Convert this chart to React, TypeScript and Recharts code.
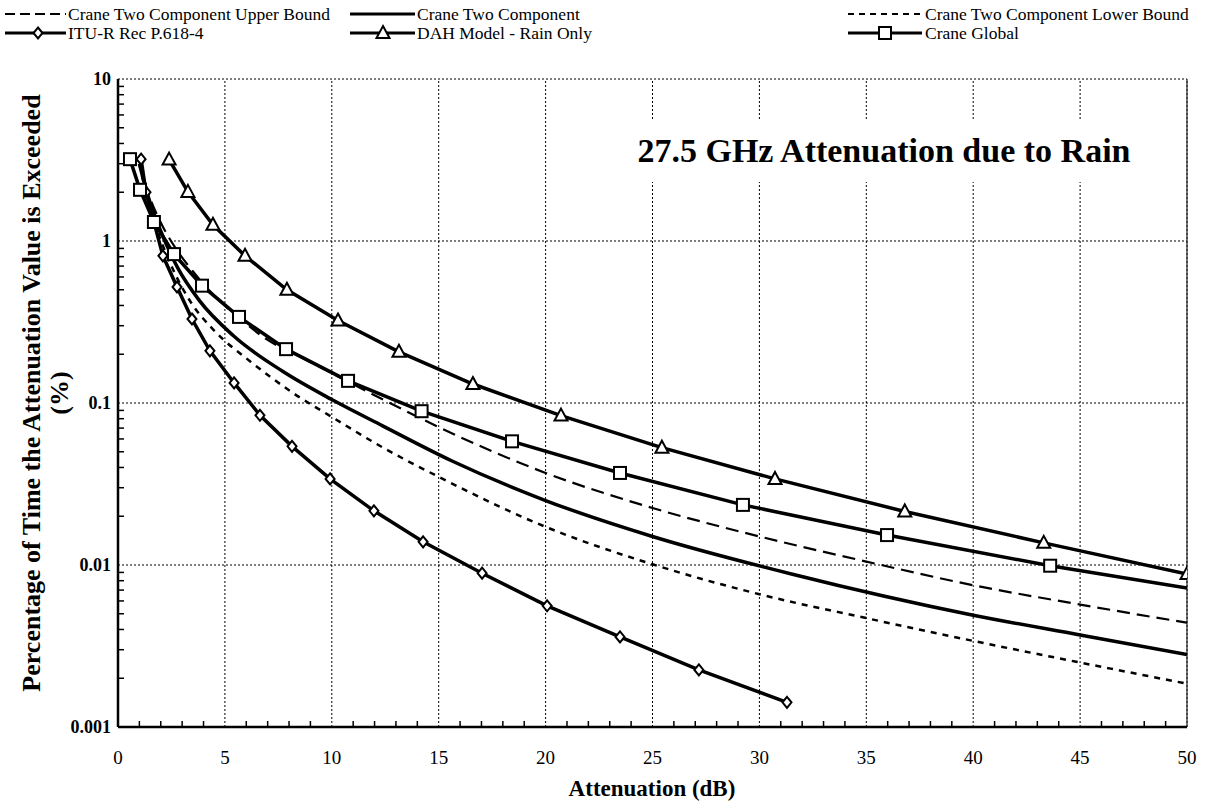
import { LineChart, Line, XAxis, YAxis, ReferenceLine } from 'recharts';

// values (attenuation dB, percent of time)
const upperX = [1.0, 1.4, 2.0, 2.7, 3.5, 4.5, 5.5, 7.0, 8.8, 10.2, 12.4, 15, 20, 25, 30, 35, 40, 45, 50];
const upperP = [3.0, 2.0, 1.3, 0.9, 0.65, 0.46, 0.35, 0.245, 0.185, 0.148, 0.105, 0.071, 0.037, 0.0225, 0.015, 0.0105, 0.0075, 0.0057, 0.0044];

const twoX = [1.0, 1.4, 2.0, 2.8, 3.8, 5.4, 7.7, 10, 12.4, 15.6, 20, 25, 31.5, 40, 45, 50];
const twoP = [3.0, 1.9, 1.15, 0.68, 0.43, 0.26, 0.157, 0.105, 0.072, 0.044, 0.025, 0.015, 0.0088, 0.0049, 0.0037, 0.0028];

const lowerX = [1.0, 1.3, 1.8, 2.5, 3.4, 4.5, 6.2, 8.2, 10, 12.4, 15, 20, 25, 30, 35, 40, 45, 50];
const lowerP = [3.0, 2.0, 1.2, 0.7, 0.42, 0.28, 0.18, 0.115, 0.082, 0.053, 0.035, 0.0172, 0.0101, 0.0066, 0.0047, 0.0034, 0.0025, 0.00185];

const ituX = [1.08, 1.31, 2.1, 2.76, 3.46, 4.3, 5.43, 6.64, 8.14, 9.92, 11.97, 14.27, 17.03, 20.07, 23.48, 27.17, 31.29];
const ituP = [3.2, 2.0, 0.81, 0.52, 0.33, 0.21, 0.133, 0.084, 0.054, 0.034, 0.0216, 0.0139, 0.0089, 0.0056, 0.0036, 0.00225, 0.00142];

const dahX = [2.39, 3.27, 4.44, 5.94, 7.9, 10.29, 13.14, 16.6, 20.72, 25.44, 30.73, 36.8, 43.3, 50];
const dahP = [3.18, 2.01, 1.26, 0.81, 0.5, 0.323, 0.207, 0.131, 0.0836, 0.053, 0.034, 0.0214, 0.0137, 0.0088];

const globalX = [0.56, 1.03, 1.68, 2.62, 3.93, 5.66, 7.86, 10.76, 14.2, 18.43, 23.48, 29.23, 35.97, 43.6, 50];
const globalP = [3.2, 2.07, 1.31, 0.83, 0.53, 0.34, 0.215, 0.137, 0.089, 0.058, 0.037, 0.0235, 0.0153, 0.0099, 0.0072];

const xMajor = [0, 5, 10, 15, 20, 25, 30, 35, 40, 45, 50];
const yMajor = [0.001, 0.01, 0.1, 1, 10];

const xAllTicks: number[] = [];
for (let i = 0; i <= 50; i++) xAllTicks.push(i);
const yAllTicks: number[] = [];
for (const d of [0.001, 0.01, 0.1, 1]) {
  for (let k = 1; k <= 9; k++) yAllTicks.push(+(d * k).toPrecision(3));
}
yAllTicks.push(10);

const FONT = "'Liberation Serif', 'Times New Roman', serif";

const pts = (xs: number[], ps: number[]) => xs.map((x, i) => ({ x, p: ps[i] }));

function XTick(props: any) {
  const { x, y, payload } = props;
  const v = payload.value;
  if (v % 5 === 0) {
    return (
      <text x={x} y={y + 37} textAnchor="middle" fontSize={19} fontFamily={FONT} fill="#000">
        {v}
      </text>
    );
  }
  return <line x1={x} x2={x} y1={y} y2={y - 6} stroke="#000" strokeWidth={1.5} />;
}

function YTick(props: any) {
  const { x, y, payload } = props;
  const v = payload.value;
  if (yMajor.includes(v)) {
    return (
      <text x={x - 7} y={y + 6} textAnchor="end" fontSize={18} fontWeight="bold" fontFamily={FONT} fill="#000">
        {String(v)}
      </text>
    );
  }
  return <line x1={x} x2={x + 6} y1={y} y2={y} stroke="#000" strokeWidth={1.5} />;
}

function Diamond(props: any) {
  const { cx, cy } = props;
  if (cx == null || cy == null) return null;
  return (
    <path
      d={`M${cx},${cy - 5.5}L${cx + 4.5},${cy}L${cx},${cy + 5.5}L${cx - 4.5},${cy}Z`}
      fill="#fff"
      stroke="#000"
      strokeWidth={2}
    />
  );
}

function Triangle(props: any) {
  const { cx, cy } = props;
  if (cx == null || cy == null) return null;
  return (
    <path
      d={`M${cx},${cy - 7}L${cx + 6.5},${cy + 5}L${cx - 6.5},${cy + 5}Z`}
      fill="#fff"
      stroke="#000"
      strokeWidth={2}
    />
  );
}

function Square(props: any) {
  const { cx, cy, index } = props;
  if (cx == null || cy == null) return null;
  if (index === globalX.length - 1) return <g />;
  return <rect x={cx - 6} y={cy - 6} width={12} height={12} fill="#fff" stroke="#000" strokeWidth={2} />;
}

function LegendRows() {
  const t = { fontSize: 17.5, fontFamily: FONT, fill: '#000' } as const;
  return (
    <svg width={1212} height={46} style={{ position: 'absolute', left: 0, top: 0 }}>
      <line x1={5} x2={66} y1={14} y2={14} stroke="#000" strokeWidth={2} strokeDasharray="10 5" />
      <text x={68} y={20} {...t}>Crane Two Component Upper Bound</text>
      <line x1={350} x2={415} y1={14} y2={14} stroke="#000" strokeWidth={3} />
      <text x={417} y={20} {...t}>Crane Two Component</text>
      <line x1={848} x2={922} y1={14} y2={14} stroke="#000" strokeWidth={2} strokeDasharray="6 5" />
      <text x={925} y={20} {...t}>Crane Two Component Lower Bound</text>

      <line x1={5} x2={66} y1={33} y2={33} stroke="#000" strokeWidth={3} />
      <Diamond cx={38} cy={33} />
      <text x={68} y={39} {...t}>ITU-R Rec P.618-4</text>
      <line x1={350} x2={415} y1={33} y2={33} stroke="#000" strokeWidth={3} />
      <Triangle cx={383} cy={33} />
      <text x={417} y={39} {...t}>DAH Model - Rain Only</text>
      <line x1={848} x2={922} y1={33} y2={33} stroke="#000" strokeWidth={3} />
      <rect x={879} y={27} width={12} height={12} fill="#fff" stroke="#000" strokeWidth={2} />
      <text x={925} y={39} {...t}>Crane Global</text>
    </svg>
  );
}

export default function App() {
  const grid = { stroke: '#000', strokeWidth: 1, strokeDasharray: '2 2' };
  return (
    <div style={{ position: 'absolute', left: 0, top: 0, width: 1212, height: 808, background: '#fff', fontFamily: FONT }}>
      <LineChart width={1212} height={808} margin={{ top: 79, right: 25, bottom: 51, left: 58 }}>
        <XAxis
          type="number"
          dataKey="x"
          domain={[0, 50]}
          allowDataOverflow
          ticks={xAllTicks}
          interval={0}
          tickSize={0}
          tickMargin={0}
          tickLine={false}
          tick={XTick}
          height={30}
          axisLine={{ stroke: '#000', strokeWidth: 2.5 }}
        />
        <YAxis
          type="number"
          dataKey="p"
          scale="log"
          domain={[0.001, 10]}
          allowDataOverflow
          ticks={yAllTicks}
          interval={0}
          tickSize={0}
          tickMargin={0}
          tickLine={false}
          tick={YTick}
          width={60}
          axisLine={{ stroke: '#000', strokeWidth: 2.5 }}
        />
        {xMajor.slice(1).map((v) => (
          <ReferenceLine key={'gx' + v} x={v} {...grid} />
        ))}
        {yMajor.slice(1).map((v) => (
          <ReferenceLine key={'gy' + v} y={v} {...grid} />
        ))}
        <ReferenceLine x={50} stroke="#222" strokeWidth={1.2} />

        <Line
          data={pts(lowerX, lowerP)}
          dataKey="p"
          type="monotone"
          stroke="#000"
          strokeWidth={2.5}
          strokeDasharray="6 6"
          dot={false}
          isAnimationActive={false}
        />
        <Line
          data={pts(upperX, upperP)}
          dataKey="p"
          type="monotone"
          stroke="#000"
          strokeWidth={2.2}
          strokeDasharray="13 7"
          dot={false}
          isAnimationActive={false}
        />
        <Line
          data={pts(twoX, twoP)}
          dataKey="p"
          type="monotone"
          stroke="#000"
          strokeWidth={3.5}
          dot={false}
          isAnimationActive={false}
        />
        <Line
          data={pts(ituX, ituP)}
          dataKey="p"
          type="linear"
          stroke="#000"
          strokeWidth={3.5}
          dot={Diamond}
          isAnimationActive={false}
        />
        <Line
          data={pts(dahX, dahP)}
          dataKey="p"
          type="linear"
          stroke="#000"
          strokeWidth={3.5}
          dot={Triangle}
          isAnimationActive={false}
        />
        <Line
          data={pts(globalX, globalP)}
          dataKey="p"
          type="linear"
          stroke="#000"
          strokeWidth={3.5}
          dot={Square}
          isAnimationActive={false}
        />
      </LineChart>

      <LegendRows />

      <div
        style={{
          position: 'absolute',
          left: 622,
          top: 120,
          width: 524,
          height: 62,
          background: '#fff',
          fontSize: 34,
          fontWeight: 'bold',
          lineHeight: '62px',
          textAlign: 'center',
          color: '#000',
        }}
      >
        27.5 GHz Attenuation due to Rain
      </div>

      <div
        style={{
          position: 'absolute',
          left: 46 - 340,
          top: 393 - 28,
          width: 680,
          height: 56,
          transform: 'rotate(-90deg)',
          transformOrigin: 'center',
          textAlign: 'center',
          fontSize: 26,
          fontWeight: 'bold',
          lineHeight: '28px',
          color: '#000',
        }}
      >
        Percentage of Time the Attenuation Value is Exceeded
        <br />
        (%)
      </div>

      <div
        style={{
          position: 'absolute',
          left: 452,
          top: 775,
          width: 400,
          textAlign: 'center',
          fontSize: 23,
          fontWeight: 'bold',
          lineHeight: '28px',
          color: '#000',
        }}
      >
        Attenuation (dB)
      </div>
    </div>
  );
}
